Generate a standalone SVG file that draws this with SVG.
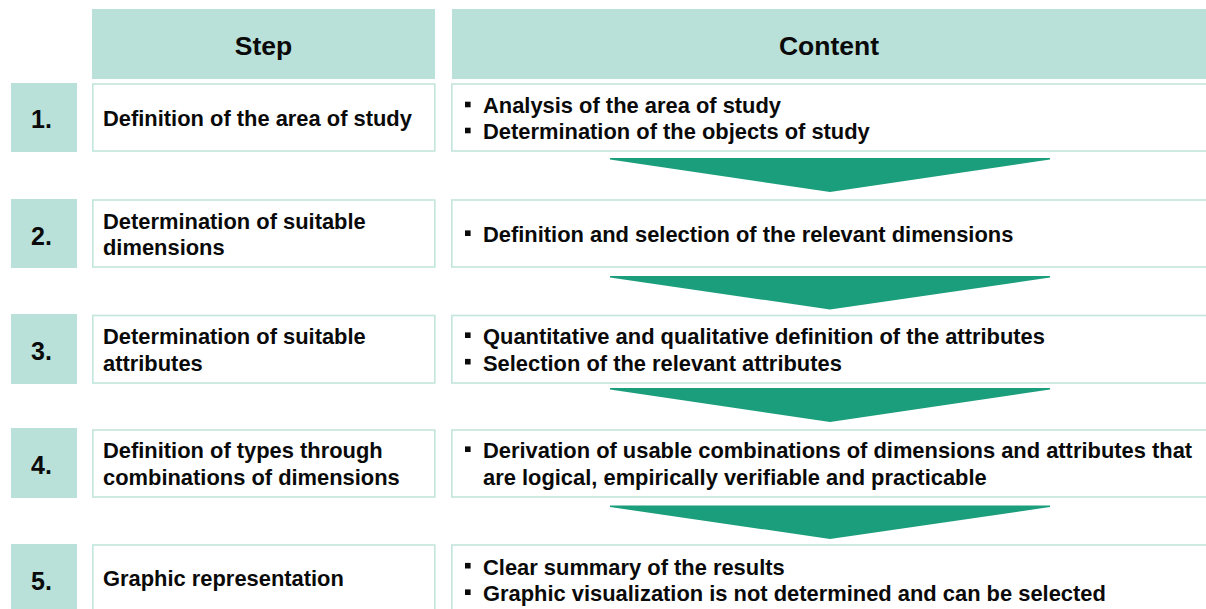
<svg xmlns="http://www.w3.org/2000/svg" width="1206" height="609" viewBox="0 0 1206 609">
  <style>
    .hdr { fill: #b9e1d9; }
    .num { fill: #b9e1d9; }
    .box { fill: #ffffff; stroke: #c4e5dc; stroke-width: 1.6; }
    .arrow { fill: #1b9e7c; }
    text { font-family: "Liberation Sans", Arial, Helvetica, sans-serif; font-weight: bold; fill: #0a0a0a; }
    .h { font-size: 26.5px; text-anchor: middle; }
    .n { font-size: 25px; }
    .t { font-size: 21.9px; }
    .bul { fill: #0a0a0a; }
  </style>
  <defs>
    <rect id="bullet" width="5.6" height="5.6" class="bul"/>
  </defs>
  <rect width="1206" height="609" fill="#ffffff"/>

  <!-- column headers -->
  <g id="header-step">
    <rect class="hdr" x="92" y="9" width="343" height="70"/>
    <text class="h" x="263.5" y="55">Step</text>
  </g>
  <g id="header-content">
    <rect class="hdr" x="452" y="9" width="760" height="70"/>
    <text class="h" x="829" y="55">Content</text>
  </g>

  <!-- connectors: downward arrows between content boxes -->
  <g id="connectors">
    <polygon class="arrow" points="610,158 1050,158 1050,159.5 830,192 610,159.5"/>
    <polygon class="arrow" points="610,276 1050,276 1050,277.5 830,309.5 610,277.5"/>
    <polygon class="arrow" points="610,388 1050,388 1050,389.5 830,422 610,389.5"/>
    <polygon class="arrow" points="610,505.5 1050,505.5 1050,507 830,539 610,507"/>
  </g>

  <!-- step 1 -->
  <g id="step1">
    <rect class="num" x="11" y="83" width="66" height="69"/>
    <text class="n" x="31" y="127.5">1.</text>
    <rect class="box" x="92.8" y="84" width="342" height="67"/>
    <text class="t" x="103" y="126">Definition of the area of study</text>
  </g>
  <g id="content1">
    <rect class="box" x="451.8" y="84" width="770" height="67"/>
    <use href="#bullet" x="465" y="101.7"/>
    <text class="t" x="483" y="113.3">Analysis of the area of study</text>
    <use href="#bullet" x="465" y="127.7"/>
    <text class="t" x="483" y="139.3">Determination of the objects of study</text>
  </g>

  <!-- step 2 -->
  <g id="step2">
    <rect class="num" x="11" y="199" width="66" height="69"/>
    <text class="n" x="31" y="245">2.</text>
    <rect class="box" x="92.8" y="200" width="342" height="67"/>
    <text class="t" x="103" y="229">Determination of suitable</text>
    <text class="t" x="103" y="255">dimensions</text>
  </g>
  <g id="content2">
    <rect class="box" x="451.8" y="200" width="770" height="67"/>
    <use href="#bullet" x="465" y="230.4"/>
    <text class="t" x="483" y="242">Definition and selection of the relevant dimensions</text>
  </g>

  <!-- step 3 -->
  <g id="step3">
    <rect class="num" x="11" y="314" width="66" height="70"/>
    <text class="n" x="31" y="360">3.</text>
    <rect class="box" x="92.8" y="315.5" width="342" height="67.5"/>
    <text class="t" x="103" y="344">Determination of suitable</text>
    <text class="t" x="103" y="370.5">attributes</text>
  </g>
  <g id="content3">
    <rect class="box" x="451.8" y="315.5" width="770" height="67.5"/>
    <use href="#bullet" x="465" y="332.4"/>
    <text class="t" x="483" y="344">Quantitative and qualitative definition of the attributes</text>
    <use href="#bullet" x="465" y="358.9"/>
    <text class="t" x="483" y="370.5">Selection of the relevant attributes</text>
  </g>

  <!-- step 4 -->
  <g id="step4">
    <rect class="num" x="11" y="428" width="66" height="70"/>
    <text class="n" x="31" y="474">4.</text>
    <rect class="box" x="92.8" y="430" width="342" height="67"/>
    <text class="t" x="103" y="458">Definition of types through</text>
    <text class="t" x="103" y="485">combinations of dimensions</text>
  </g>
  <g id="content4">
    <rect class="box" x="451.8" y="430" width="770" height="67"/>
    <use href="#bullet" x="465" y="446.4"/>
    <text class="t" x="483" y="458">Derivation of usable combinations of dimensions and attributes that</text>
    <text class="t" x="483" y="485">are logical, empirically verifiable and practicable</text>
  </g>

  <!-- step 5 -->
  <g id="step5">
    <rect class="num" x="11" y="544" width="66" height="70"/>
    <text class="n" x="31" y="590">5.</text>
    <rect class="box" x="92.8" y="545" width="342" height="68"/>
    <text class="t" x="103" y="586">Graphic representation</text>
  </g>
  <g id="content5">
    <rect class="box" x="451.8" y="545" width="770" height="68"/>
    <use href="#bullet" x="465" y="562.9"/>
    <text class="t" x="483" y="574.5">Clear summary of the results</text>
    <use href="#bullet" x="465" y="589.4"/>
    <text class="t" x="483" y="601">Graphic visualization is not determined and can be selected</text>
  </g>
</svg>
